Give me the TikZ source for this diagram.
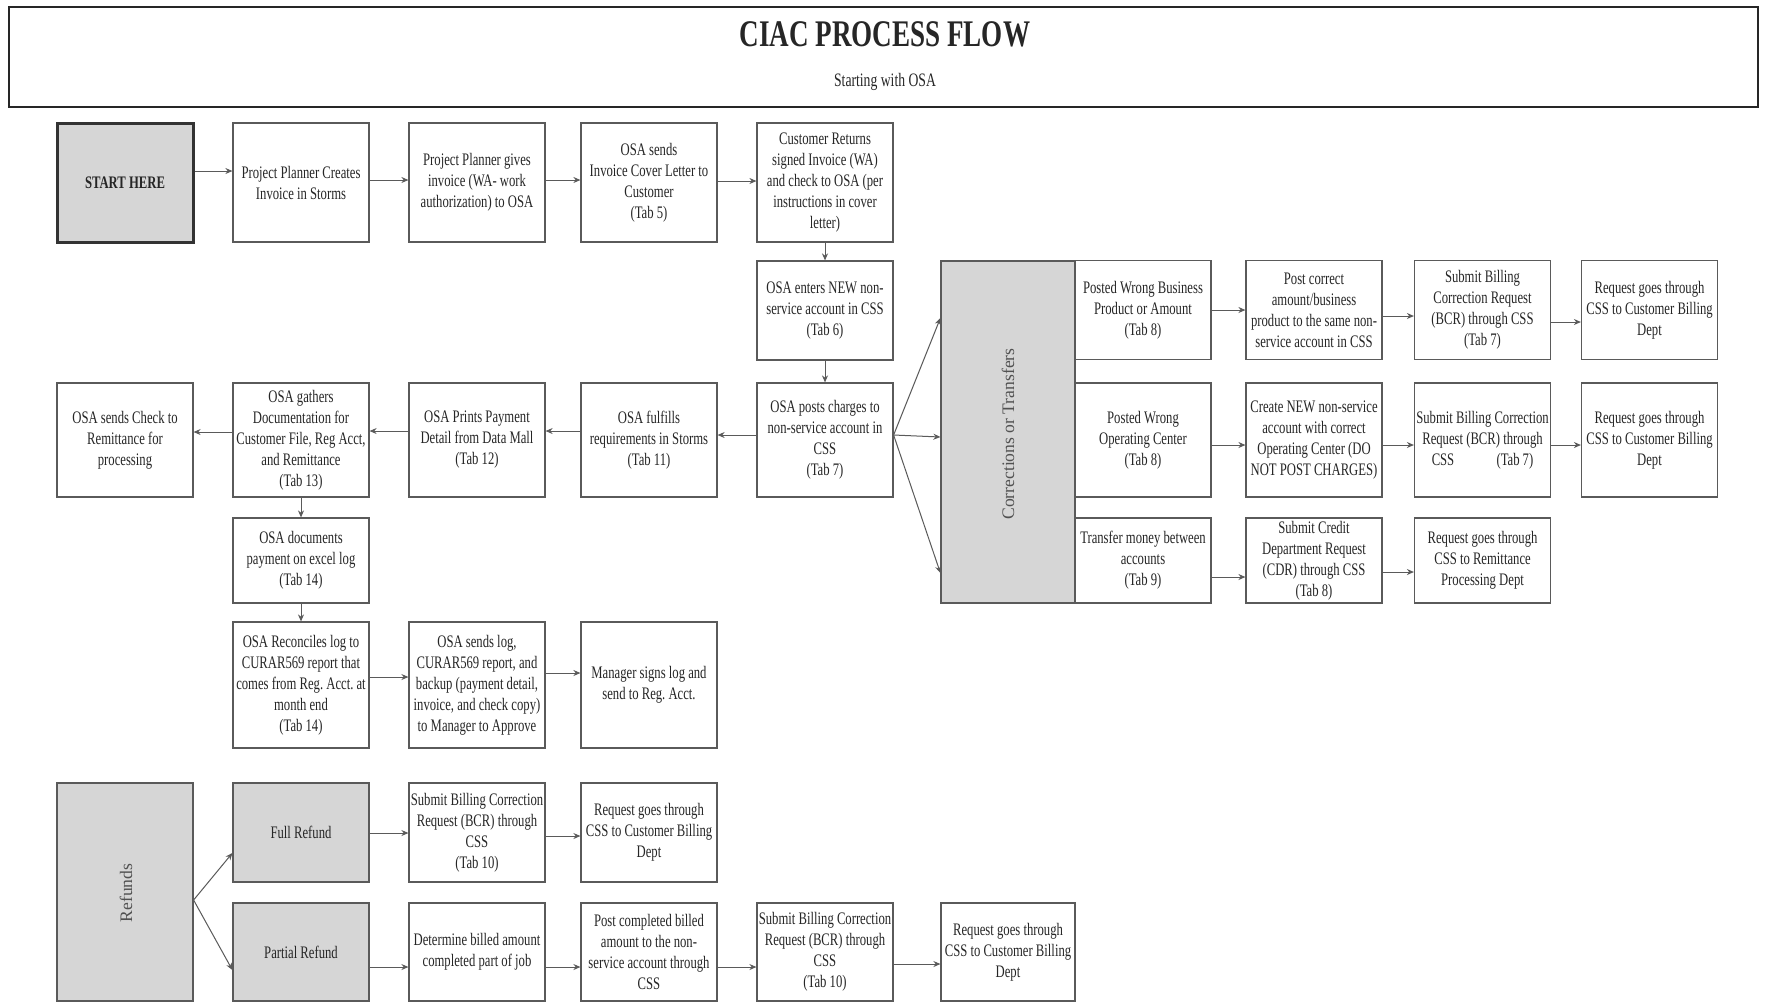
\documentclass[tikz,border=0pt]{standalone}
\usepackage{fontspec}
\setmainfont{Liberation Serif}[FakeStretch=0.72]
\newfontfamily\rotfont{Liberation Serif}
\usetikzlibrary{arrows.meta}
\definecolor{boxgray}{HTML}{D6D6D6}
\definecolor{linegray}{HTML}{5A5A5A}
\definecolor{txt}{HTML}{262626}
\begin{document}
\frenchspacing
\begin{tikzpicture}[x=0.5pt,y=-0.5pt,
  box/.style={draw=linegray, line width=0.6pt, fill=white, rectangle, inner sep=0pt,
    minimum width=68pt, align=center, text=txt,
    font=\fontsize{8.8}{10.5}\selectfont},
  greybox/.style={box, fill=boxgray},
  hA/.style={minimum height=59.5pt},
  hB/.style={minimum height=49.5pt},
  hC/.style={minimum height=57pt},
  hD/.style={minimum height=42.5pt},
  hE/.style={minimum height=63pt},
  hF/.style={minimum height=49.5pt},
  hG/.style={minimum height=49pt},
  arr/.style={draw=linegray, line width=0.5pt, -{Stealth[length=3.5pt,width=3pt]}},
  rotlabel/.style={rotate=90, text=txt!80, font=\rotfont\fontsize{8.8}{10}\selectfont},
]
\useasboundingbox[fill=white] (0,0) rectangle (1765,1003);

% title
\node[draw=black!85, line width=1.4pt, fill=white, minimum width=874.5pt, minimum height=50pt, inner sep=0pt] (titlebox) at (883.5,57) {};
\node[text=txt, font=\fontsize{18.8}{22}\selectfont\bfseries] (title) at (885,34) {CIAC PROCESS FLOW};
\node[text=txt, font=\fontsize{9.5}{11}\selectfont] (subtitle) at (885,82) {Starting with OSA};

% row 1
\node[greybox, hA, draw=black!80, line width=1.5pt] (start) at (125,182.5) {\bfseries START HERE};
\node[box, hA] (ppc) at (301,182.5) {Project Planner Creates\\Invoice in Storms};
\node[box, hA] (ppg) at (477,182.5) {Project Planner gives\\invoice (WA- work\\authorization) to OSA};
\node[box, hA] (osc) at (649,182.5) {OSA sends\\Invoice Cover Letter to\\Customer\\(Tab 5)};
\node[box, hA] (cret) at (825,182.5) {Customer Returns\\signed Invoice (WA)\\and check to OSA (per\\instructions in cover\\letter)};

% column 5 down
\node[box, hB] (oen) at (825,310.5) {OSA enters NEW non-\\service account in CSS\\(Tab 6)};
\node[box, hC] (opc) at (825,440) {OSA posts charges to\\non-service account in\\CSS\\(Tab 7)};

% row 3 leftwards
\node[box, hC] (ofu) at (649,440) {OSA fulfills\\requirements in Storms\\(Tab 11)};
\node[box, hC] (opp) at (477,440) {OSA Prints Payment\\Detail from Data Mall\\(Tab 12)};
\node[box, hC] (oga) at (301,440) {OSA gathers\\Documentation for\\Customer File, Reg Acct,\\and Remittance\\(Tab 13)};
\node[box, hC] (osk) at (125,440) {OSA sends Check to\\Remittance for\\processing};

% rows 4-5
\node[box, hD] (odo) at (301,560.5) {OSA documents\\payment on excel log\\(Tab 14)};
\node[box, hE] (orc) at (301,685) {OSA Reconciles log to\\CURAR569 report that\\comes from Reg. Acct. at\\month end\\(Tab 14)};
\node[box, hE] (osl) at (477,685) {OSA sends log,\\CURAR569 report, and\\backup (payment detail,\\invoice, and check copy)\\to Manager to Approve};
\node[box, hE] (msg) at (649,685) {Manager signs log and\\send to Reg. Acct.};

% corrections
\node[greybox, minimum width=67pt, minimum height=171pt] (corr) at (1008,432) {};
\node[rotlabel] (corrlbl) at (1008,434) {Corrections or Transfers};
\node[box, hB] (pwb) at (1143,310) {Posted Wrong Business\\Product or Amount\\(Tab 8)};
\node[box, hC] (pwo) at (1143,440) {Posted Wrong\\Operating Center\\(Tab 8)};
\node[box, hD] (tmb) at (1143,560.5) {Transfer money between\\accounts\\(Tab 9)};
\node[box, hB] (pca) at (1314,310) {Post correct\\amount/business\\product to the same non-\\service account in CSS};
\node[box, hC] (cna) at (1314,440) {Create NEW non-service\\account with correct\\Operating Center (DO\\NOT POST CHARGES)};
\node[box, hD] (cdr) at (1314,560.5) {Submit Credit\\Department Request\\(CDR) through CSS\\(Tab 8)};
\node[box, hB] (sb1) at (1482.5,310) {Submit Billing\\Correction Request\\(BCR) through CSS\\(Tab 7)};
\node[box, hC] (sb2) at (1482.5,440) {Submit Billing Correction\\Request (BCR) through\\CSS\hspace{2.4em}(Tab 7)};
\node[box, hD] (rrp) at (1482.5,560.5) {Request goes through\\CSS to Remittance\\Processing Dept};
\node[box, hB] (rq1) at (1649.5,310) {Request goes through\\CSS to Customer Billing\\Dept};
\node[box, hC] (rq2) at (1649.5,440) {Request goes through\\CSS to Customer Billing\\Dept};

% refunds
\node[greybox, minimum height=109pt] (ref) at (125,892) {};
\node[rotlabel] (reflbl) at (126,893) {Refunds};
\node[greybox, hF] (fr) at (301,832.5) {Full Refund};
\node[greybox, hG] (pr) at (301,952) {Partial Refund};
\node[box, hF] (fb) at (477,832.5) {Submit Billing Correction\\Request (BCR) through\\CSS\\(Tab 10)};
\node[box, hF] (fq) at (649,832.5) {Request goes through\\CSS to Customer Billing\\Dept};
\node[box, hG] (dba) at (477,952) {Determine billed amount\\completed part of job};
\node[box, hG] (pcb) at (649,952) {Post completed billed\\amount to the non-\\service account through\\CSS};
\node[box, hG] (pb2) at (825,952) {Submit Billing Correction\\Request (BCR) through\\CSS\\(Tab 10)};
\node[box, hG, minimum width=67pt] (pq) at (1008,952) {Request goes through\\CSS to Customer Billing\\Dept};

% arrows row 1
\draw[arr] (start.east |- 0,171) -- (ppc.west |- 0,171);
\draw[arr] (ppc.east |- 0,180) -- (ppg.west |- 0,180);
\draw[arr] (ppg.east |- 0,180) -- (osc.west |- 0,180);
\draw[arr] (osc.east |- 0,181) -- (cret.west |- 0,181);
\draw[arr] (cret.south) -- (oen.north);
\draw[arr] (oen.south) -- (opc.north);
% row 3
\draw[arr] (opc.west |- 0,435) -- (ofu.east |- 0,435);
\draw[arr] (ofu.west |- 0,431) -- (opp.east |- 0,431);
\draw[arr] (opp.west |- 0,431) -- (oga.east |- 0,431);
\draw[arr] (oga.west |- 0,432) -- (osk.east |- 0,432);
\draw[arr] (oga.south) -- (odo.north);
\draw[arr] (odo.south) -- (orc.north);
\draw[arr] (orc.east |- 0,677) -- (osl.west |- 0,677);
\draw[arr] (osl.east |- 0,673) -- (msg.west |- 0,673);
% fan to corrections
\draw[arr] (opc.east |- 0,435) -- (corr.west |- 0,318);
\draw[arr] (opc.east |- 0,435) -- (corr.west |- 0,437);
\draw[arr] (opc.east |- 0,435) -- (corr.west |- 0,573);
% corrections rows
\draw[arr] (pwb.east |- 0,310) -- (pca.west |- 0,310);
\draw[arr] (pca.east |- 0,316) -- (sb1.west |- 0,316);
\draw[arr] (sb1.east |- 0,322) -- (rq1.west |- 0,322);
\draw[arr] (pwo.east |- 0,445) -- (cna.west |- 0,445);
\draw[arr] (cna.east |- 0,445) -- (sb2.west |- 0,445);
\draw[arr] (sb2.east |- 0,445) -- (rq2.west |- 0,445);
\draw[arr] (tmb.east |- 0,577) -- (cdr.west |- 0,577);
\draw[arr] (cdr.east |- 0,572) -- (rrp.west |- 0,572);
% refunds
\draw[arr] (ref.east |- 0,900) -- (fr.west |- 0,853);
\draw[arr] (ref.east |- 0,900) -- (pr.west |- 0,970);
\draw[arr] (fr.east |- 0,833) -- (fb.west |- 0,833);
\draw[arr] (fb.east |- 0,836) -- (fq.west |- 0,836);
\draw[arr] (pr.east |- 0,967) -- (dba.west |- 0,967);
\draw[arr] (dba.east |- 0,967) -- (pcb.west |- 0,967);
\draw[arr] (pcb.east |- 0,967) -- (pb2.west |- 0,967);
\draw[arr] (pb2.east |- 0,964) -- (pq.west |- 0,964);
\end{tikzpicture}
\end{document}
